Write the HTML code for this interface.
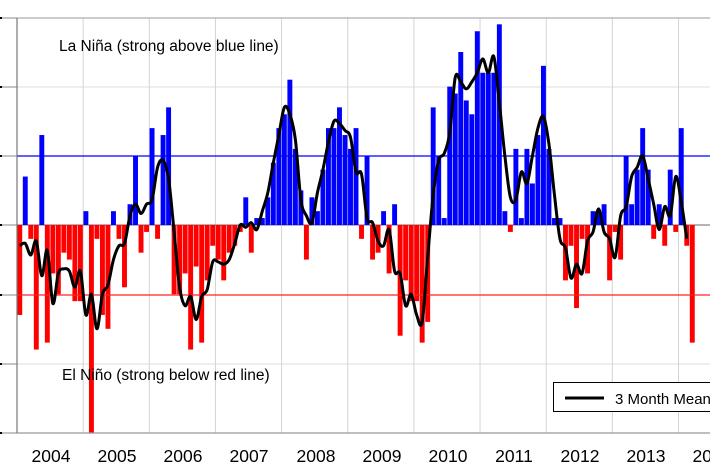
<!DOCTYPE html>
<html><head><meta charset="utf-8"><style>
html,body{margin:0;padding:0;background:#fff;width:710px;height:473px;overflow:hidden}
svg{display:block;font-family:"Liberation Sans",Arial,sans-serif}
</style></head><body>
<svg id="s" width="710" height="473" viewBox="0 0 710 473">
<g id="grid"></g>
<g id="bars"></g>
<line x1="17" y1="156" x2="710" y2="156" stroke="#0000ff" stroke-width="1.3"/>
<line x1="17" y1="295" x2="710" y2="295" stroke="#ff2020" stroke-width="1.3"/>
<path id="mean" fill="none" stroke="#000" stroke-width="3" stroke-linejoin="round"/>
<line x1="17" y1="18" x2="17" y2="433" stroke="#777" stroke-width="1.2"/>
<line x1="17" y1="433" x2="710" y2="433" stroke="#999" stroke-width="1.2"/>
<line x1="17" y1="18" x2="710" y2="18" stroke="#999" stroke-width="1"/>
<text x="59" y="51" font-size="15.5">La Niña (strong above blue line)</text>
<text x="62" y="380" font-size="15.5">El Niño (strong below red line)</text>
<g font-size="17.5" text-anchor="middle">
<text x="51" y="462">2004</text><text x="117" y="462">2005</text><text x="183" y="462">2006</text>
<text x="249" y="462">2007</text><text x="316" y="462">2008</text><text x="382" y="462">2009</text>
<text x="448" y="462">2010</text><text x="514" y="462">2011</text><text x="580" y="462">2012</text>
<text x="646" y="462">2013</text><text x="712" y="462">2014</text>
</g>
<rect x="553.5" y="382.5" width="160" height="29" fill="#fff" stroke="#000" stroke-width="1"/>
<line x1="565" y1="398" x2="604" y2="398" stroke="#000" stroke-width="3"/>
<text x="615" y="404" font-size="15">3 Month Mean</text>
</svg>
<script>
var v=[-1.3,0.7,-0.2,-1.8,1.3,-1.7,-0.7,-1.0,-0.4,-0.5,-1.1,-1.1,
0.2,-3.0,-0.2,-1.3,-1.5,0.2,-0.2,-0.9,0.3,1.0,-0.4,-0.1,
1.4,-0.2,1.3,1.7,-1.0,-1.0,-0.7,-1.8,-0.6,-1.7,-0.8,-0.3,
-0.5,-0.8,-0.4,-0.3,-0.1,0.4,-0.4,0.1,0.1,0.4,0.9,1.4,
1.6,2.1,1.1,0.5,-0.5,0.4,0.2,0.8,1.4,1.4,1.7,1.3,
1.1,1.4,-0.2,1.0,-0.5,-0.4,0.2,-0.7,0.3,-1.6,-0.8,-1.1,
-1.1,-1.7,-1.4,1.7,1.0,0.1,2.0,1.9,2.5,1.8,1.6,2.8,
2.2,2.2,2.2,2.9,0.2,-0.1,1.1,0.1,1.1,0.6,1.3,2.3,
1.1,0.1,0.1,-0.8,-0.3,-1.2,-0.2,-0.7,0.2,0.2,0.3,-0.8,
-0.1,-0.5,1.0,0.3,0.8,1.4,0.8,-0.2,0.3,-0.3,0.8,-0.1,
1.4,-0.3,-1.7];
var NS="http://www.w3.org/2000/svg",mw=66.15/12,U=69.2,Z=225;
function el(t,a,p){var e=document.createElementNS(NS,t);for(var k in a)e.setAttribute(k,a[k]);p.appendChild(e);return e;}
var g=document.getElementById("grid");
[87,156,295,364].forEach(function(y){el("line",{x1:17,y1:y,x2:710,y2:y,stroke:"#ddd","stroke-width":1},g);});
for(var i=1;i<=10;i++){var x=17+i*66.15;el("line",{x1:x,y1:18,x2:x,y2:433,stroke:"#d4d4d4","stroke-width":1},g);}
[18,87,156,225,295,364,433].forEach(function(y){el("line",{x1:0,y1:y,x2:17,y2:y,stroke:"#888","stroke-width":1},g);el("rect",{x:0,y:y-1,width:2,height:2,fill:"#000"},g);});
var b=document.getElementById("bars");
v.forEach(function(d,i){var x=17+i*mw+0.3,h=Math.abs(d)*U;el("rect",{x:x,y:d>0?Z-h:Z,width:mw-0.6,height:h,fill:d>0?"#0000ff":"#ff0000"},b);});
el("line",{x1:17,y1:Z,x2:710,y2:Z,stroke:"#888","stroke-width":1.2},g);
var N=v.length;
var m=[];for(var i=0;i<N-1;i++){var s=0,n=0;for(var j=i-1;j<=i+1;j++)if(j>=0&&j<N){s+=v[j];n++;}m.push(s/n);}
var p=m.map(function(d,i){return [17+i*mw+mw/2,Z-d*U];});
var dstr="M"+p[0][0]+","+p[0][1];
for(var i=0;i<p.length-1;i++){var p0=p[Math.max(0,i-1)],p1=p[i],p2=p[i+1],p3=p[Math.min(p.length-1,i+2)];
dstr+=" C"+(p1[0]+(p2[0]-p0[0])/6)+","+(p1[1]+(p2[1]-p0[1])/6)+" "+(p2[0]-(p3[0]-p1[0])/6)+","+(p2[1]-(p3[1]-p1[1])/6)+" "+p2[0]+","+p2[1];}
document.getElementById("mean").setAttribute("d",dstr);
</script>
</body></html>
